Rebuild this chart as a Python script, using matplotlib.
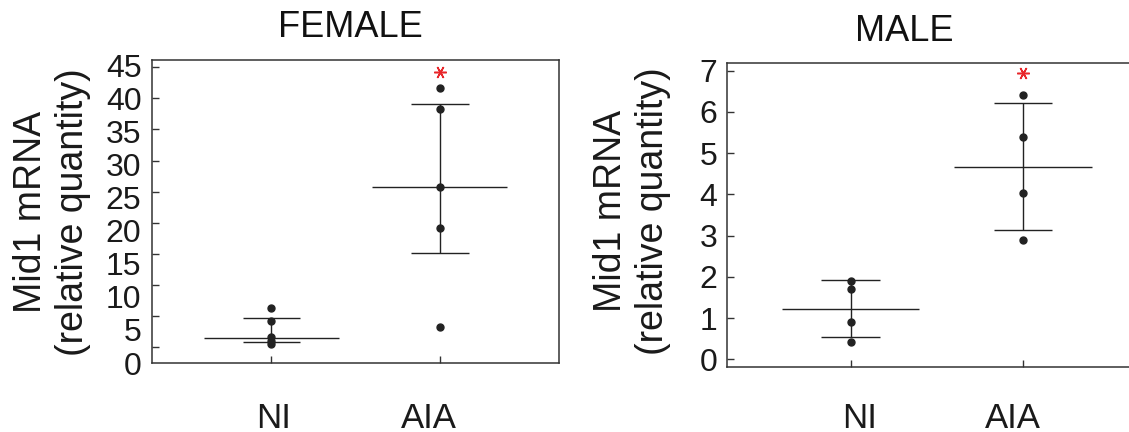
import matplotlib.pyplot as plt

plt.rcParams['font.family'] = ['Liberation Sans', 'DejaVu Sans']

groups = ['NI', 'AIA']

# FEMALE: individual values, median line and interquartile caps
female_ni = [6.30, 4.17, 1.67, 1.05, 0.53]
female_aia = [41.6, 38.3, 25.7, 19.2, 3.23]
female_median = [1.56, 25.7]
female_low = [0.89, 15.1]
female_high = [4.68, 39.1]
female_star = 44.2
female_yticks = [0, 5, 10, 15, 20, 25, 30, 35, 40, 45]

# MALE
male_ni = [1.90, 1.70, 0.91, 0.42]
male_aia = [6.40, 5.39, 4.04, 2.88]
male_median = [1.23, 4.67]
male_low = [0.55, 3.14]
male_high = [1.92, 6.21]
male_star = 6.94
male_yticks = [0, 1, 2, 3, 4, 5, 6, 7]

INK = '#222222'
RED = '#e8262a'


def draw_panel(ax, ni, aia, median, low, high, star):
    xs = [1, 2]
    for x, vals in zip(xs, [ni, aia]):
        ax.plot([x] * len(vals), vals, 'o', color=INK, markersize=5, zorder=3)
    ax.hlines(median, [x - 0.40 for x in xs], [x + 0.40 for x in xs], color=INK, lw=1)
    ax.hlines(low, [x - 0.17 for x in xs], [x + 0.17 for x in xs], color=INK, lw=1)
    ax.hlines(high, [x - 0.17 for x in xs], [x + 0.17 for x in xs], color=INK, lw=1)
    ax.vlines(xs, low, high, color=INK, lw=1)
    ax.plot([2], [star], linestyle='none', marker=(6, 2, 90), markersize=9,
            markeredgecolor=RED, markeredgewidth=1.1)
    for s in ax.spines.values():
        s.set_color('#333333')
        s.set_linewidth(1.1)
    ax.tick_params(which='major', direction='in', length=5, width=1, color='#333333')
    ax.tick_params(which='minor', length=0)
    ax.tick_params(axis='both', which='both', labelsize=23, labelcolor='#1a1a1a')


fig = plt.figure(figsize=(11.29, 4.32), dpi=100)
ax1 = fig.add_axes([0.1346, 0.1597, 0.3605, 0.7014])
ax2 = fig.add_axes([0.6438, 0.1498, 0.3718, 0.7051])

draw_panel(ax1, female_ni, female_aia, female_median, female_low, female_high, female_star)
draw_panel(ax2, male_ni, male_aia, male_median, male_low, male_high, male_star)

# female panel: tick labels in the source sit a little off their tick marks
ax1.set_xlim(0.292, 2.706)
ax1.set_ylim(-1.14, 46.14)
ax1.set_yticks(female_yticks, labels=[])
ax1.set_yticks([45.25 - (45 - v) * 1.061 for v in female_yticks],
               labels=[str(v) for v in female_yticks], minor=True)
ax1.set_xticks([1, 2], labels=[])
ax1.set_xticks([1.015, 1.935], labels=groups, minor=True)
ax1.tick_params(axis='y', which='minor', pad=7.6)
ax1.tick_params(axis='x', which='minor', pad=28, labelsize=25)

ax2.set_xlim(0.283, 2.717)
ax2.set_ylim(-0.194, 7.19)
ax2.set_yticks(male_yticks, labels=[str(v) for v in male_yticks])
ax2.set_xticks([1, 2], labels=[])
ax2.set_xticks([1.054, 1.94], labels=groups, minor=True)
ax2.tick_params(axis='y', which='major', pad=7)
ax2.tick_params(axis='x', which='minor', pad=25, labelsize=25)

ylab = 'Mid1 mRNA\n(relative quantity)'
ax1.text(-0.2457, 0.497, ylab, transform=ax1.transAxes, rotation=90,
         ha='center', va='center', multialignment='center', fontsize=27, color='#1a1a1a')
ax2.text(-0.226, 0.513, ylab, transform=ax2.transAxes, rotation=90,
         ha='center', va='center', multialignment='center', fontsize=27, color='#1a1a1a')

ax1.text(0.4885, 1.075, 'FEMALE', transform=ax1.transAxes, ha='center', va='baseline',
         fontsize=26, color='#111111')
ax2.text(0.4219, 1.072, 'MALE', transform=ax2.transAxes, ha='center', va='baseline',
         fontsize=26, color='#111111')

fig.savefig('out.png', dpi=100)
